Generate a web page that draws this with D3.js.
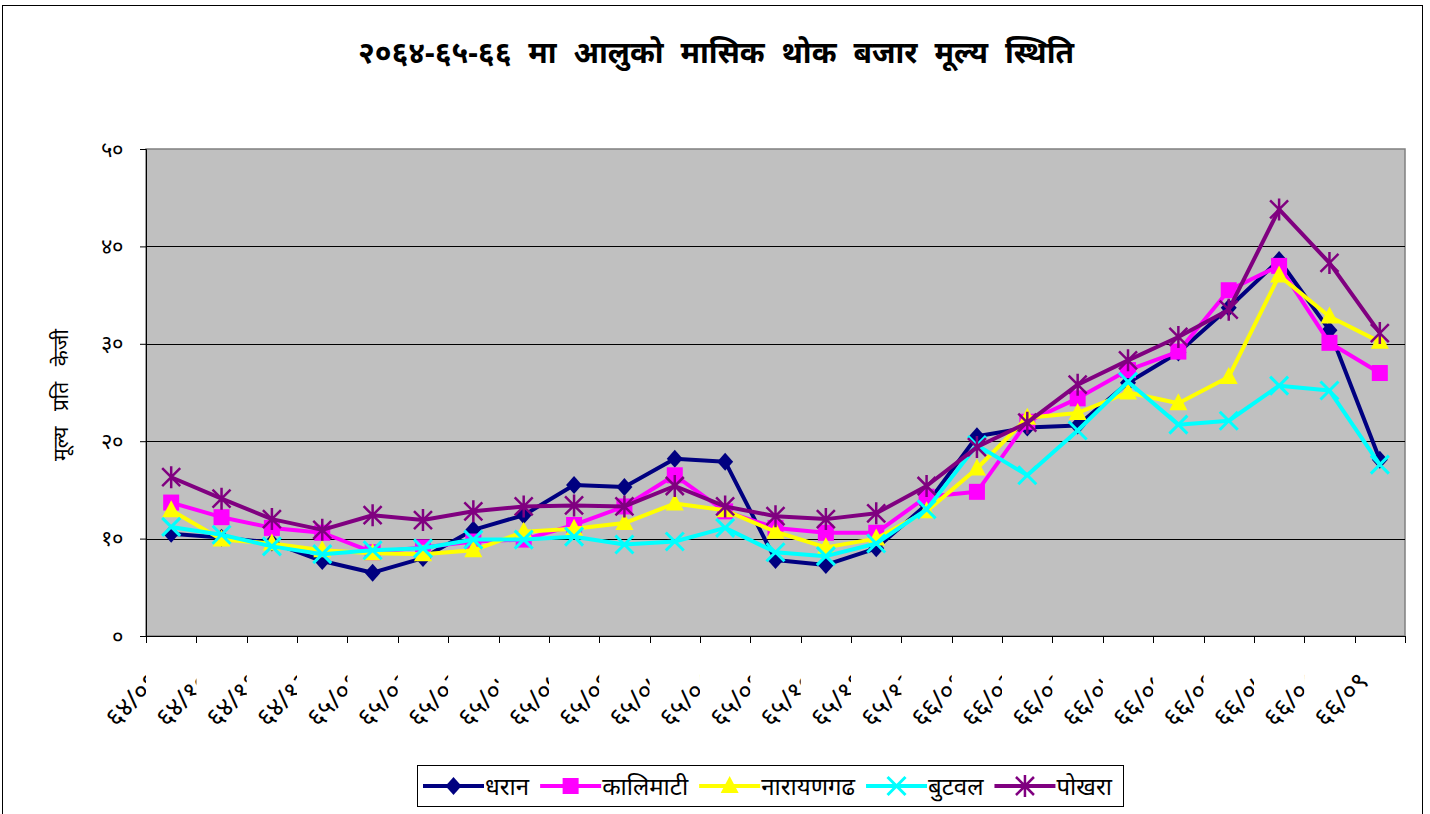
<!DOCTYPE html>
<html><head><meta charset="utf-8">
<script src="https://cdn.jsdelivr.net/npm/d3@7"></script>
<style>
body{margin:0;background:#fff;}
svg{display:block;font-family:"Noto Sans","Noto Sans Devanagari","DejaVu Sans",sans-serif;}
</style></head>
<body><svg id="c" width="1430" height="814"></svg>
<script>
const title = "२०६४-६५-६६ मा आलुको मासिक थोक बजार मूल्य स्थिति";
const yTitle = "मूल्य प्रति केजी";
const months = ["६४/०९","६४/१०","६४/११","६४/१२","६५/०१","६५/०२","६५/०३","६५/०४","६५/०५","६५/०६","६५/०७","६५/०८","६५/०९","६५/१०","६५/११","६५/१२","६६/०१","६६/०२","६६/०३","६६/०४","६६/०५","६६/०६","६६/०७","६६/०८","६६/०९"];
const yTicks = [0,10,20,30,40,50];
const yTickLabels = ["०","१०","२०","३०","४०","५०"];
const dharan     = [10.5,10.1,9.6,7.7,6.5,8.0,10.9,12.4,15.5,15.3,18.2,17.9,7.8,7.3,9.0,13.5,20.5,21.4,21.6,26.0,29.1,33.7,38.6,31.4,18.1];
const kalimati   = [13.7,12.2,11.1,10.6,8.6,9.1,9.7,9.9,11.4,13.3,16.5,12.8,11.1,10.6,10.6,14.3,14.8,22.0,24.4,27.3,29.2,35.5,38.0,30.1,27.0];
const narayangadh= [12.9,9.9,9.5,8.8,8.5,8.4,8.8,10.7,11.0,11.6,13.6,12.9,10.7,9.1,10.0,12.8,17.2,22.4,22.9,25.0,23.9,26.6,37.0,32.8,30.2];
const butwal     = [11.2,10.4,9.2,8.4,8.8,9.0,9.9,9.9,10.2,9.4,9.7,11.1,8.6,8.2,9.5,13.0,19.6,16.5,21.1,26.1,21.7,22.1,25.7,25.2,17.6];
const pokhara    = [16.3,14.1,12.0,10.9,12.4,11.9,12.8,13.3,13.4,13.3,15.4,13.3,12.3,12.0,12.6,15.4,19.4,21.9,25.8,28.3,30.7,33.5,43.8,38.3,31.1];
const seriesNames = ["धरान","कालिमाटी","नारायणगढ","बुटवल","पोखरा"];
const seriesColors = ["#000080","#FF00FF","#FFFF00","#00FFFF","#800080"];
const seriesMarkers = ["diamond","square","triangle","x","asterisk"];
const seriesData = [dharan,kalimati,narayangadh,butwal,pokhara];

const svg = d3.select("#c");
const W=1430,H=814;
const plot = {l:146, r:1405, t:149, b:636};

svg.append("rect").attr("x",2.5).attr("y",5.5).attr("width",1420).attr("height",820).attr("fill","#fff").attr("stroke","#000").attr("stroke-width",1);

svg.append("text").attr("x",716).attr("y",63).attr("text-anchor","middle")
  .attr("font-size",30).attr("font-weight","bold").attr("word-spacing","9px").text(title);

const x = d3.scaleBand().domain(months).range([plot.l, plot.r]);
const y = d3.scaleLinear().domain([0,50]).range([plot.b, plot.t]);

svg.append("rect").attr("x",plot.l).attr("y",plot.t).attr("width",plot.r-plot.l).attr("height",plot.b-plot.t)
  .attr("fill","#C0C0C0").attr("stroke","#808080").attr("stroke-width",1.5);

svg.append("g").selectAll("line").data(yTicks.filter(d=>d>0&&d<50)).join("line")
  .attr("x1",plot.l).attr("x2",plot.r).attr("y1",d=>Math.round(y(d))+0.5).attr("y2",d=>Math.round(y(d))+0.5)
  .attr("stroke","#000").attr("stroke-width",1);

const yAxis = d3.axisLeft(y).tickValues(yTicks).tickSize(6).tickPadding(17).tickFormat((d,i)=>yTickLabels[i]);
const gy = svg.append("g").attr("transform",`translate(${plot.l},0)`).call(yAxis);
gy.select(".domain").attr("stroke","#000");
gy.selectAll("text").attr("font-size",22).attr("fill","#000").attr("font-family","inherit");

const xAxis = d3.axisBottom(x).tickSize(7).tickFormat("");
const gx = svg.append("g").attr("transform",`translate(0,${plot.b})`).call(xAxis);
gx.select(".domain").attr("stroke","#000");
const bounds = months.map(m=>x(m)).concat([plot.r]);
gx.selectAll(".tick").remove();
gx.selectAll("line.bt").data(bounds).join("line").attr("class","bt")
  .attr("x1",d=>Math.round(d)+0.5).attr("x2",d=>Math.round(d)+0.5).attr("y1",0).attr("y2",7).attr("stroke","#000");

// rotated labels, each clipped at its band's left edge (except the last)
const defs = svg.append("defs");
months.forEach((m,i)=>{
  defs.append("clipPath").attr("id","lc"+i).append("rect")
    .attr("x",0).attr("y",640).attr("width", i<months.length-1 ? x(m) : W).attr("height",174);
});
const lblG = svg.append("g");
months.forEach((m,i)=>{
  lblG.append("g").attr("clip-path",`url(#lc${i})`)
    .append("text")
    .attr("transform",`translate(${x(m)+x.bandwidth()/2-10},${683}) rotate(-45)`)
    .attr("text-anchor","end").attr("font-size",26).attr("fill","#000").text(m);
});

svg.append("text").attr("transform",`translate(68,${395}) rotate(-90)`).attr("text-anchor","middle")
  .attr("font-size",21).attr("word-spacing","10px").text(yTitle);

function drawMarker(g, type, color, cx, cy){
  const s=8;
  if(type==="diamond"){
    g.append("path").attr("d",`M${cx},${cy-s-1}L${cx+s},${cy}L${cx},${cy+s+1}L${cx-s},${cy}Z`).attr("fill",color);
  } else if(type==="square"){
    g.append("rect").attr("x",cx-8).attr("y",cy-8).attr("width",16).attr("height",16).attr("fill",color);
  } else if(type==="triangle"){
    g.append("path").attr("d",`M${cx},${cy-10}L${cx+9},${cy+7}L${cx-9},${cy+7}Z`).attr("fill",color);
  } else if(type==="x"){
    g.append("path").attr("d",`M${cx-9},${cy-9}L${cx+9},${cy+9}M${cx+9},${cy-9}L${cx-9},${cy+9}`).attr("stroke",color).attr("stroke-width",3);
  } else if(type==="asterisk"){
    g.append("path").attr("d",`M${cx-9},${cy-9}L${cx+9},${cy+9}M${cx+9},${cy-9}L${cx-9},${cy+9}M${cx},${cy-11}L${cx},${cy+11}`).attr("stroke",color).attr("stroke-width",2.5);
  }
}

const line = d3.line().x((d,i)=>x(months[i])+x.bandwidth()/2).y(d=>y(d));
seriesData.forEach((data,si)=>{
  const g = svg.append("g");
  g.append("path").datum(data).attr("d",line).attr("fill","none").attr("stroke",seriesColors[si]).attr("stroke-width",4).attr("stroke-linejoin","round");
  data.forEach((v,i)=>drawMarker(g, seriesMarkers[si], seriesColors[si], x(months[i])+x.bandwidth()/2, y(v)));
});

// legend
const lg = svg.append("g");
lg.append("rect").attr("x",417.5).attr("y",765.5).attr("width",706).attr("height",41).attr("fill","#fff").attr("stroke","#000");
let lx = 423;
seriesNames.forEach((n,si)=>{
  const g = lg.append("g");
  g.append("line").attr("x1",lx).attr("x2",lx+61).attr("y1",786).attr("y2",786).attr("stroke",seriesColors[si]).attr("stroke-width",4);
  drawMarker(g, seriesMarkers[si], seriesColors[si], lx+30.5, 786);
  const t = g.append("text").attr("x",lx+62).attr("y",795).attr("font-size",24).text(n);
  lx += 62 + t.node().getComputedTextLength() + 11;
});
</script></body></html>
